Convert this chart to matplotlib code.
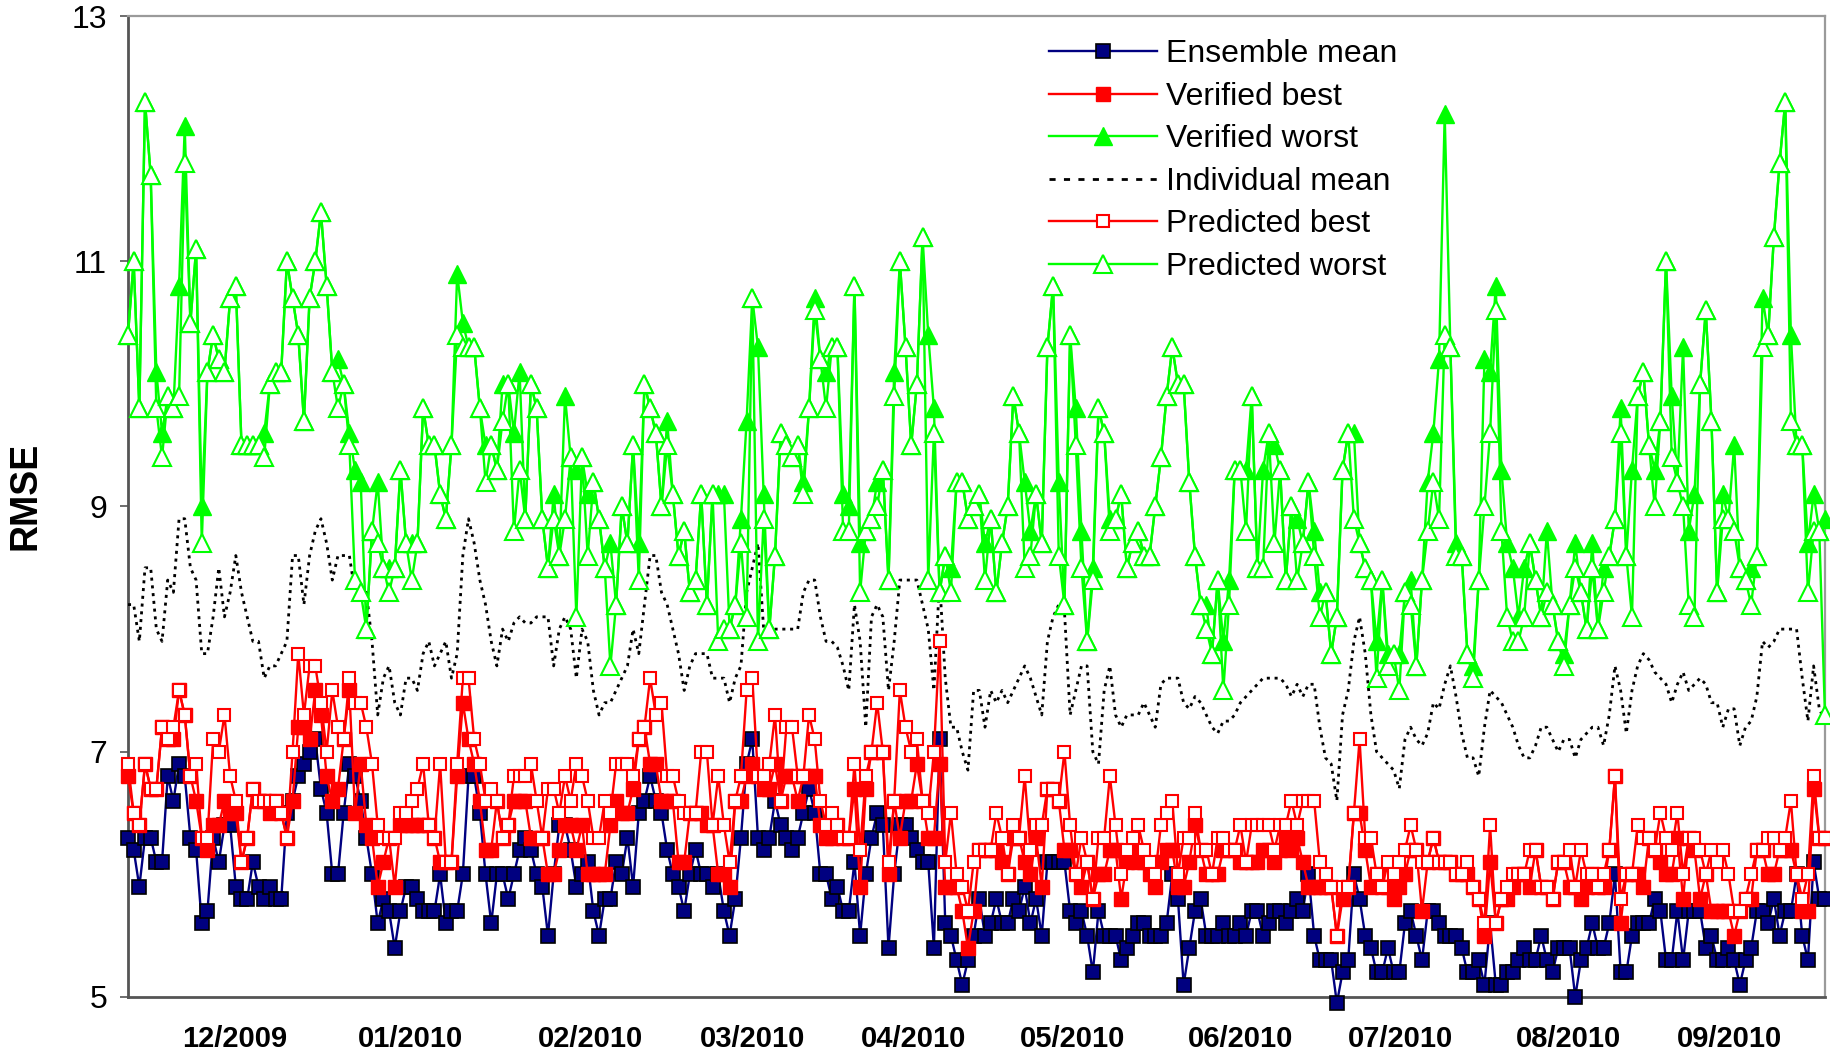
import numpy as np
import matplotlib
matplotlib.use("Agg")
import matplotlib.pyplot as plt
from matplotlib.lines import Line2D

# ---------------- data (daily RMSE) ----------------
ensemble_mean = [
    6.3, 6.2, 5.9, 6.3, 6.3, 6.1, 6.1, 6.8, 6.6, 6.9,
    6.8, 6.3, 6.2, 5.6, 5.7, 6.3, 6.1, 6.4, 6.4, 5.9,
    5.8, 5.8, 6.1, 5.9, 5.8, 5.9, 5.8, 5.8, 6.5, 6.6,
    6.8, 6.9, 7.0, 7.1, 6.7, 6.5, 6.0, 6.0, 6.5, 6.9,
    6.8, 6.6, 6.3, 6.0, 5.6, 5.8, 5.7, 5.4, 5.7, 5.9,
    5.9, 5.8, 5.7, 5.7, 5.7, 6.0, 5.6, 5.7, 5.7, 6.0,
    6.8, 6.8, 6.5, 6.0, 5.6, 6.0, 6.0, 5.8, 6.0, 6.2,
    6.3, 6.2, 6.0, 5.9, 5.5, 6.0, 6.4, 6.4, 6.2, 5.9,
    6.0, 6.1, 5.7, 5.5, 5.8, 5.8, 6.1, 6.0, 6.3, 5.9,
    6.5, 6.6, 6.8, 6.6, 6.5, 6.2, 6.0, 5.9, 5.7, 6.0,
    6.2, 6.0, 6.0, 5.9, 6.0, 5.7, 5.5, 5.8, 6.3, 6.9,
    7.1, 6.3, 6.2, 6.3, 6.6, 6.4, 6.3, 6.2, 6.3, 6.5,
    6.7, 6.5, 6.0, 6.0, 5.8, 5.9, 5.7, 5.7, 6.1, 5.5,
    6.0, 6.3, 6.5, 6.4, 5.4, 6.0, 6.4, 6.4, 6.3, 6.2,
    6.1, 6.1, 5.4, 7.1, 5.6, 5.5, 5.3, 5.1, 5.3, 5.5,
    5.8, 5.5, 5.6, 5.8, 5.6, 5.6, 5.8, 5.7, 5.9, 5.6,
    5.8, 5.5, 6.1, 6.1, 6.1, 6.1, 5.7, 5.6, 5.7, 5.5,
    5.2, 5.7, 5.5, 5.5, 5.5, 5.3, 5.4, 5.5, 5.6, 5.6,
    5.5, 5.5, 5.5, 5.6, 6.0, 5.8, 5.1, 5.4, 5.7, 5.8,
    5.5, 5.5, 5.5, 5.6, 5.5, 5.5, 5.6, 5.5, 5.7, 5.7,
    5.5, 5.6, 5.7, 5.7, 5.6, 5.7, 5.8, 5.7, 6.0, 5.5,
    5.3, 5.3, 5.3, 4.95, 5.2, 5.3, 6.0, 5.8, 5.5, 5.4,
    5.2, 5.2, 5.4, 5.2, 5.2, 5.6, 5.7, 5.5, 5.3, 5.7,
    5.7, 5.6, 5.5, 5.5, 5.5, 5.4, 5.2, 5.2, 5.3, 5.1,
    5.6, 5.1, 5.1, 5.2, 5.2, 5.3, 5.4, 5.3, 5.3, 5.5,
    5.3, 5.2, 5.4, 5.4, 5.4, 5.0, 5.3, 5.4, 5.6, 5.4,
    5.4, 5.6, 6.0, 5.2, 5.2, 5.5, 5.6, 5.6, 5.6, 5.8,
    5.7, 5.3, 5.3, 5.7, 5.3, 5.7, 5.7, 5.7, 5.4, 5.5,
    5.3, 5.3, 5.4, 5.3, 5.1, 5.3, 5.4, 5.7, 5.7, 5.6,
    5.8, 5.5, 5.7, 5.7, 6.0, 5.5, 5.3, 6.1, 5.8, 5.8,
]

verified_best = [
    6.8, 6.5, 6.4, 6.9, 6.7, 6.7, 7.2, 7.1, 7.1, 7.5,
    7.3, 6.8, 6.6, 6.3, 6.2, 6.4, 6.4, 6.6, 6.5, 6.5,
    6.1, 6.3, 6.7, 6.6, 6.6, 6.5, 6.6, 6.5, 6.3, 6.6,
    7.2, 7.2, 7.1, 7.5, 7.3, 6.8, 6.6, 6.7, 7.1, 7.5,
    6.5, 6.9, 6.4, 6.3, 5.9, 6.1, 6.3, 5.9, 6.4, 6.4,
    6.4, 6.4, 6.4, 6.4, 6.3, 6.1, 6.1, 6.1, 6.8, 7.4,
    7.1, 6.9, 6.6, 6.2, 6.2, 6.6, 6.3, 6.4, 6.6, 6.6,
    6.6, 6.3, 6.3, 6.3, 6.0, 6.0, 6.2, 6.4, 6.4, 6.2,
    6.4, 6.0, 6.0, 6.0, 6.0, 6.4, 6.6, 6.5, 6.5, 6.7,
    7.1, 7.2, 6.9, 6.9, 6.6, 6.6, 6.6, 6.1, 6.1, 6.5,
    6.5, 6.5, 6.4, 6.4, 6.0, 6.0, 5.9, 6.6, 6.6, 6.8,
    6.9, 6.8, 6.7, 6.7, 6.9, 6.6, 6.8, 6.8, 6.6, 6.8,
    6.8, 6.8, 6.4, 6.3, 6.3, 6.4, 6.3, 6.3, 6.7, 5.9,
    6.7, 7.0, 7.0, 7.0, 6.0, 6.6, 6.3, 6.6, 6.6, 6.9,
    6.6, 6.3, 6.3, 6.9, 5.9, 5.9, 5.9, 5.7, 5.4, 5.7,
    6.2, 6.2, 6.2, 6.2, 6.1, 6.0, 6.3, 6.3, 6.1, 6.0,
    6.3, 5.9, 6.7, 6.7, 6.6, 6.2, 6.2, 6.0, 5.9, 6.1,
    5.8, 6.0, 6.0, 6.2, 6.2, 5.8, 6.1, 6.2, 6.1, 6.1,
    6.0, 5.9, 6.1, 6.2, 6.2, 5.9, 5.9, 6.1, 6.4, 6.2,
    6.0, 6.0, 6.0, 6.2, 6.2, 6.2, 6.1, 6.1, 6.1, 6.1,
    6.2, 6.2, 6.1, 6.2, 6.3, 6.2, 6.3, 6.1, 5.9, 5.9,
    5.9, 5.9, 5.9, 5.5, 5.8, 5.9, 6.5, 6.5, 6.2, 5.9,
    6.0, 5.9, 5.9, 5.8, 5.9, 6.0, 6.2, 6.2, 5.7, 6.1,
    6.3, 6.1, 6.1, 6.1, 6.0, 6.0, 6.0, 5.9, 5.8, 5.5,
    6.1, 5.6, 5.8, 5.8, 5.9, 6.0, 6.0, 5.9, 6.2, 5.9,
    5.9, 5.8, 6.1, 6.1, 5.9, 5.9, 5.8, 5.9, 6.0, 5.9,
    5.9, 6.2, 6.8, 5.6, 6.0, 6.0, 6.0, 5.9, 6.3, 6.2,
    6.1, 6.0, 6.0, 6.3, 5.8, 6.3, 6.2, 5.8, 6.0, 5.7,
    5.7, 5.7, 5.7, 5.5, 5.7, 5.8, 5.8, 6.2, 6.2, 6.0,
    6.0, 6.2, 6.2, 6.2, 6.0, 5.7, 5.7, 6.7, 6.3, 6.3,
]

verified_worst = [
    10.4, 11.0, 9.8, 12.3, 11.7, 10.1, 9.6, 9.9, 9.8, 10.8,
    12.1, 10.5, 11.1, 9.0, 10.1, 10.4, 10.2, 10.1, 10.7, 10.8,
    9.5, 9.5, 9.5, 9.5, 9.6, 10.0, 10.1, 10.1, 11.0, 10.7,
    10.4, 9.7, 10.7, 11.0, 11.4, 10.8, 10.1, 10.2, 10.0, 9.6,
    9.3, 9.2, 8.0, 8.8, 9.2, 8.5, 8.5, 8.5, 9.3, 8.7,
    8.7, 8.7, 9.8, 9.5, 9.5, 9.1, 8.9, 9.5, 10.9, 10.5,
    10.3, 10.3, 9.8, 9.5, 9.5, 9.3, 10.0, 10.0, 9.6, 10.1,
    8.9, 10.0, 9.8, 8.9, 8.5, 9.1, 8.6, 9.9, 9.4, 9.3,
    9.4, 9.1, 9.2, 8.9, 8.5, 8.7, 8.2, 9.0, 8.7, 9.5,
    8.7, 10.0, 9.8, 9.6, 9.0, 9.7, 9.1, 8.6, 8.8, 8.3,
    8.4, 9.1, 8.2, 9.1, 9.1, 9.1, 8.0, 8.2, 8.9, 9.7,
    10.7, 10.3, 9.1, 8.0, 8.6, 9.6, 9.5, 9.4, 9.5, 9.2,
    9.8, 10.7, 10.2, 10.1, 10.3, 10.3, 9.1, 9.0, 10.8, 8.7,
    8.8, 8.9, 9.2, 9.3, 8.4, 10.1, 11.0, 10.3, 9.5, 10.0,
    11.2, 10.4, 9.8, 8.3, 8.6, 8.5, 9.2, 9.2, 8.9, 9.0,
    9.1, 8.7, 8.9, 8.3, 8.7, 9.0, 9.9, 9.6, 9.2, 8.8,
    9.1, 8.7, 10.3, 10.8, 9.2, 8.2, 10.4, 9.8, 8.8, 7.9,
    8.5, 9.8, 9.6, 8.9, 8.9, 9.1, 8.5, 8.7, 8.8, 8.6,
    8.6, 9.0, 9.4, 9.9, 10.3, 10.0, 10.0, 9.2, 8.6, 8.2,
    8.2, 7.8, 8.4, 7.9, 8.4, 9.3, 9.3, 9.3, 9.9, 8.5,
    9.3, 9.6, 9.5, 9.3, 8.4, 9.0, 8.9, 8.7, 9.2, 8.8,
    8.3, 8.3, 7.8, 8.1, 9.3, 9.6, 9.6, 8.7, 8.5, 8.4,
    7.9, 8.4, 7.8, 7.8, 7.8, 8.3, 8.4, 7.7, 8.4, 9.2,
    9.6, 10.2, 12.2, 10.3, 8.7, 8.6, 7.8, 7.7, 8.4, 10.2,
    10.1, 10.8, 9.3, 8.7, 8.5, 8.1, 8.5, 8.7, 8.4, 8.1,
    8.8, 8.2, 7.9, 7.8, 8.2, 8.7, 8.3, 8.0, 8.7, 8.0,
    8.5, 8.6, 8.9, 9.8, 8.6, 9.3, 9.9, 10.1, 9.5, 9.3,
    9.7, 11.0, 9.9, 9.2, 10.3, 8.8, 9.1, 10.0, 10.6, 9.7,
    8.3, 9.1, 8.9, 9.5, 8.5, 8.4, 8.5, 8.6, 10.7, 10.4,
    11.2, 11.8, 12.3, 10.4, 9.5, 9.5, 8.7, 9.1, 8.8, 8.9,
]

individual_mean = [
    8.2, 8.2, 7.9, 8.5, 8.5, 8.0, 7.9, 8.4, 8.3, 8.9,
    8.9, 8.5, 8.4, 7.8, 7.8, 8.1, 8.5, 8.1, 8.3, 8.6,
    8.3, 8.1, 7.9, 7.9, 7.6, 7.7, 7.7, 7.8, 7.9, 8.6,
    8.6, 8.2, 8.6, 8.8, 8.9, 8.7, 8.4, 8.6, 8.6, 8.6,
    8.3, 8.3, 8.3, 7.9, 7.3, 7.6, 7.7, 7.4, 7.3, 7.6,
    7.6, 7.5, 7.8, 7.9, 7.7, 7.8, 7.9, 7.6, 7.8, 8.6,
    8.9, 8.7, 8.4, 8.2, 7.9, 7.7, 8.0, 7.9, 8.05, 8.1,
    8.05, 8.05, 8.1, 8.1, 8.1, 7.7, 8.0, 8.1, 8.0, 7.6,
    8.0, 7.9, 7.5, 7.3, 7.4, 7.4, 7.5, 7.6, 7.7, 8.0,
    7.8, 8.2, 8.6, 8.6, 8.3, 8.2, 8.0, 7.8, 7.5, 7.7,
    7.8, 7.8, 7.8, 7.6, 7.6, 7.6, 7.4, 7.6, 7.7, 8.3,
    8.5, 8.7, 8.0, 8.0, 8.0, 8.0, 8.0, 8.0, 8.0, 8.3,
    8.4, 8.4, 8.1, 7.9, 7.9, 7.85, 7.7, 7.5, 8.2, 7.9,
    7.2, 8.1, 8.2, 8.1, 7.5, 7.9, 8.4, 8.4, 8.4, 8.4,
    8.2, 8.0, 7.5, 8.4, 7.6, 7.2, 7.2, 7.0, 6.85, 7.5,
    7.5, 7.2, 7.5, 7.4, 7.5, 7.4, 7.5, 7.6, 7.7, 7.6,
    7.45, 7.3, 7.9, 8.1, 8.2, 8.15, 7.3, 7.5, 7.7, 7.7,
    7.0, 6.9, 7.5, 7.7, 7.3, 7.2, 7.3, 7.3, 7.3, 7.4,
    7.3, 7.2, 7.55, 7.6, 7.6, 7.6, 7.4, 7.35, 7.45, 7.4,
    7.3, 7.2, 7.15, 7.25, 7.25, 7.3, 7.4, 7.45, 7.5, 7.55,
    7.6, 7.6, 7.6, 7.6, 7.55, 7.45, 7.55, 7.45, 7.55, 7.55,
    7.2, 6.95, 6.9, 6.6, 7.3, 7.5, 7.9, 8.1, 7.8, 7.3,
    7.0, 6.95, 6.9, 6.85, 6.7, 7.1, 7.2, 7.1, 7.05, 7.15,
    7.4, 7.35, 7.55, 7.7, 7.45, 7.15, 6.95, 6.95, 6.8, 7.2,
    7.5, 7.45, 7.4, 7.3, 7.2, 7.05, 6.95, 6.95, 7.05, 7.2,
    7.2, 7.1, 7.0, 7.1, 7.1, 6.95, 7.1, 7.15, 7.2, 7.2,
    7.05, 7.3, 7.7, 7.5, 7.15, 7.5, 7.7, 7.8, 7.75, 7.65,
    7.6, 7.55, 7.4, 7.55, 7.65, 7.5, 7.55, 7.6, 7.55, 7.4,
    7.4, 7.2, 7.35, 7.35, 7.05, 7.2, 7.25, 7.45, 7.9, 7.85,
    7.9, 8.0, 8.0, 8.0, 8.0, 7.6, 7.25, 7.7, 7.35, 7.25,
]

predicted_best = [
    6.9, 6.5, 6.4, 6.9, 6.7, 6.7, 7.2, 7.1, 7.2, 7.5,
    7.3, 6.8, 6.9, 6.3, 6.3, 7.1, 7.0, 7.3, 6.8, 6.6,
    6.1, 6.3, 6.7, 6.6, 6.6, 6.6, 6.6, 6.5, 6.3, 7.0,
    7.8, 7.3, 7.7, 7.7, 7.4, 7.0, 7.5, 7.2, 7.1, 7.6,
    7.4, 7.4, 7.2, 6.9, 6.4, 6.3, 6.3, 6.3, 6.5, 6.5,
    6.6, 6.7, 6.9, 6.4, 6.3, 6.9, 6.1, 6.1, 6.9, 7.6,
    7.6, 7.1, 6.9, 6.6, 6.7, 6.6, 6.3, 6.4, 6.8, 6.8,
    6.8, 6.9, 6.6, 6.3, 6.7, 6.7, 6.5, 6.8, 6.6, 6.9,
    6.8, 6.6, 6.3, 6.3, 6.6, 6.5, 6.9, 6.9, 6.9, 6.8,
    7.1, 7.2, 7.6, 7.3, 7.4, 6.8, 6.8, 6.6, 6.5, 6.5,
    6.5, 7.0, 7.0, 6.4, 6.8, 6.4, 6.1, 6.6, 6.8, 7.5,
    7.6, 6.8, 6.8, 6.9, 7.3, 6.6, 7.2, 7.2, 6.8, 6.8,
    7.3, 7.1, 6.6, 6.4, 6.5, 6.4, 6.3, 6.3, 6.9, 6.2,
    6.8, 7.0, 7.4, 7.0, 6.1, 6.6, 7.5, 7.2, 7.0, 7.1,
    6.6, 6.5, 7.0, 7.9, 6.1, 6.5, 6.0, 5.9, 5.7, 6.1,
    6.2, 6.2, 6.2, 6.5, 6.3, 6.0, 6.4, 6.3, 6.8, 6.2,
    6.4, 6.4, 6.7, 6.7, 6.6, 7.0, 6.4, 6.0, 6.3, 6.1,
    5.8, 6.3, 6.3, 6.8, 6.4, 6.0, 6.2, 6.3, 6.4, 6.2,
    6.1, 6.0, 6.4, 6.5, 6.6, 6.0, 6.3, 6.3, 6.5, 6.2,
    6.2, 6.0, 6.3, 6.3, 6.2, 6.2, 6.4, 6.1, 6.4, 6.4,
    6.4, 6.4, 6.2, 6.4, 6.4, 6.6, 6.4, 6.6, 6.6, 6.6,
    6.1, 6.0, 5.9, 5.5, 5.9, 5.9, 6.5, 7.1, 6.3, 6.3,
    6.0, 5.9, 6.1, 6.0, 6.1, 6.2, 6.4, 6.2, 6.1, 6.1,
    6.3, 6.1, 6.1, 6.1, 6.0, 6.0, 6.1, 5.9, 5.8, 5.6,
    6.4, 5.6, 5.8, 5.9, 6.0, 6.0, 6.0, 6.2, 6.2, 5.9,
    5.9, 5.8, 6.1, 6.1, 6.2, 5.9, 6.2, 6.0, 6.0, 5.9,
    6.0, 6.2, 6.8, 5.8, 6.0, 6.0, 6.4, 6.3, 6.3, 6.2,
    6.5, 6.3, 6.2, 6.5, 6.0, 6.3, 6.3, 6.2, 6.0, 6.2,
    6.1, 6.2, 6.0, 5.7, 5.7, 5.8, 6.0, 6.2, 6.2, 6.3,
    6.3, 6.2, 6.3, 6.6, 6.0, 5.8, 6.0, 6.8, 6.3, 6.3,
]

predicted_worst = [
    10.4, 11.0, 9.8, 12.3, 11.7, 9.8, 9.4, 9.9, 9.8, 9.9,
    11.8, 10.5, 11.1, 8.7, 10.1, 10.4, 10.2, 10.1, 10.7, 10.8,
    9.5, 9.5, 9.5, 9.5, 9.4, 10.0, 10.1, 10.1, 11.0, 10.7,
    10.4, 9.7, 10.7, 11.0, 11.4, 10.8, 10.1, 9.8, 10.0, 9.5,
    8.4, 8.3, 8.0, 8.8, 8.7, 8.5, 8.3, 8.5, 9.3, 8.7,
    8.4, 8.7, 9.8, 9.5, 9.5, 9.1, 8.9, 9.5, 10.4, 10.3,
    10.3, 10.3, 9.8, 9.2, 9.5, 9.3, 9.7, 10.0, 8.8, 9.3,
    8.9, 10.0, 9.8, 8.9, 8.5, 8.9, 8.6, 8.9, 9.4, 8.1,
    9.4, 8.6, 9.2, 8.9, 8.5, 7.7, 8.2, 9.0, 8.7, 9.5,
    8.4, 10.0, 9.8, 9.6, 9.0, 9.5, 9.1, 8.6, 8.8, 8.3,
    8.4, 9.1, 8.2, 9.1, 7.9, 8.0, 8.0, 8.2, 8.7, 8.1,
    10.7, 7.9, 8.9, 8.0, 8.6, 9.6, 9.5, 9.4, 9.5, 9.1,
    9.8, 10.6, 10.2, 9.8, 10.3, 10.3, 8.8, 8.8, 10.8, 8.3,
    8.8, 8.9, 9.0, 9.3, 8.4, 9.9, 11.0, 10.3, 9.5, 10.0,
    11.2, 8.4, 9.6, 8.3, 8.6, 8.3, 9.2, 9.2, 8.9, 9.0,
    9.1, 8.4, 8.9, 8.3, 8.7, 9.0, 9.9, 9.6, 8.5, 8.6,
    9.1, 8.7, 10.3, 10.8, 8.6, 8.2, 10.4, 9.5, 8.5, 7.9,
    8.4, 9.8, 9.6, 8.8, 8.9, 9.1, 8.5, 8.7, 8.8, 8.6,
    8.6, 9.0, 9.4, 9.9, 10.3, 10.0, 10.0, 9.2, 8.6, 8.2,
    8.0, 7.8, 8.4, 7.5, 8.2, 9.3, 9.3, 8.8, 9.9, 8.5,
    8.5, 9.6, 8.7, 9.3, 8.4, 9.0, 8.4, 8.7, 9.2, 8.6,
    8.1, 8.3, 7.8, 8.1, 9.3, 9.6, 8.9, 8.7, 8.5, 8.4,
    7.6, 8.4, 7.7, 7.8, 7.5, 8.3, 8.2, 7.7, 8.4, 8.8,
    9.2, 8.9, 10.4, 10.3, 8.6, 8.6, 7.8, 7.6, 8.4, 9.0,
    9.6, 10.6, 8.8, 8.1, 7.9, 7.9, 8.1, 8.7, 8.4, 8.1,
    8.3, 8.2, 7.9, 7.7, 8.2, 8.5, 8.3, 8.0, 8.5, 8.0,
    8.3, 8.6, 8.9, 9.6, 8.6, 8.1, 9.9, 10.1, 9.5, 9.0,
    9.7, 11.0, 9.4, 9.2, 9.0, 8.2, 8.1, 10.0, 10.6, 9.7,
    8.3, 8.9, 8.9, 8.8, 8.5, 8.4, 8.2, 8.6, 10.3, 10.4,
    11.2, 11.8, 12.3, 9.7, 9.5, 9.5, 8.3, 8.8, 8.8, 7.3,
]

month_labels = ["12/2009", "01/2010", "02/2010", "03/2010", "04/2010",
                "05/2010", "06/2010", "07/2010", "08/2010", "09/2010"]
month_label_pos = [18.8, 49.7, 81.5, 110.0, 138.5, 166.4, 196.1, 224.2, 253.9, 282.1]
y_ticks = [5, 7, 9, 11, 13]

# ---------------- styling ----------------
plt.rcParams['font.family'] = ['Liberation Sans', 'DejaVu Sans']

NAVY = '#000080'
RED = '#FF0000'
GREEN = '#00FF00'

fig = plt.figure(figsize=(18.31, 10.53), dpi=100)
ax = fig.add_axes([0.0699, 0.0532, 0.9268, 0.9316])

def xs(s):
    return np.arange(len(s))

lw = 1.7
sq = 9.5
tri = 12.5
ax.plot(xs(ensemble_mean), ensemble_mean, color=NAVY, lw=lw, marker='s', ms=sq,
        mfc=NAVY, mec='black', mew=1.2, clip_on=False, zorder=3, label='Ensemble mean')
ax.plot(xs(verified_best), verified_best, color=RED, lw=lw, marker='s', ms=sq,
        mfc=RED, mec=RED, mew=1.0, clip_on=False, zorder=4, label='Verified best')
ax.plot(xs(verified_worst), verified_worst, color=GREEN, lw=lw, marker='^', ms=tri,
        mfc=GREEN, mec=GREEN, mew=1.0, clip_on=False, zorder=5, label='Verified worst')
ax.plot(xs(individual_mean), individual_mean, color='black', lw=2.0,
        ls=(0, (1.1, 1.7)), clip_on=False, zorder=6, label='Individual mean')
ax.plot(xs(predicted_best), predicted_best, color=RED, lw=lw, marker='s', ms=sq - 0.5,
        mfc='white', mec=RED, mew=1.5, clip_on=False, zorder=7, label='Predicted best')
ax.plot(xs(predicted_worst), predicted_worst, color=GREEN, lw=lw, marker='^', ms=tri,
        mfc='white', mec=GREEN, mew=1.5, clip_on=False, zorder=8, label='Predicted worst')

n = len(predicted_worst)
ax.set_xlim(0, n - 1)
ax.set_ylim(5, 13)
ax.set_yticks(y_ticks)
ax.set_yticklabels([str(v) for v in y_ticks])
ax.tick_params(axis='y', direction='out', length=6, width=1.2, color='#555555',
               labelsize=23, pad=9, labelcolor='black')
ax.set_xticks(month_label_pos)
ax.set_xticklabels(month_labels, fontsize=21, fontweight='bold',
                   family=['Liberation Sans Narrow', 'Liberation Sans', 'DejaVu Sans'])
ax.tick_params(axis='x', length=0, pad=20, labelcolor='black')

for side in ['left', 'bottom']:
    ax.spines[side].set_color('#555555')
    ax.spines[side].set_linewidth(2.0)
for side in ['top', 'right']:
    ax.spines[side].set_color('#9a9a9a')
    ax.spines[side].set_linewidth(1.6)

fig.text(26 / 1831, 0.529, 'RMSE', rotation=90, ha='center', va='center',
         fontsize=27, fontweight='bold')

handles = [
    Line2D([], [], color=NAVY, lw=lw, marker='s', ms=sq, mfc=NAVY, mec='black', mew=1.2),
    Line2D([], [], color=RED, lw=lw, marker='s', ms=sq, mfc=RED, mec=RED),
    Line2D([], [], color=GREEN, lw=lw, marker='^', ms=tri, mfc=GREEN, mec=GREEN),
    Line2D([], [], color='black', lw=2.0, ls=(0, (2.2, 3.0))),
    Line2D([], [], color=RED, lw=lw, marker='s', ms=sq - 0.5, mfc='white', mec=RED, mew=1.5),
    Line2D([], [], color=GREEN, lw=lw, marker='^', ms=tri, mfc='white', mec=GREEN, mew=1.5),
]
labels = ['Ensemble mean', 'Verified best', 'Verified worst',
          'Individual mean', 'Predicted best', 'Predicted worst']
fig.legend(handles, labels, loc='upper left', bbox_to_anchor=(0.573, 0.9625),
           bbox_transform=fig.transFigure, frameon=False, fontsize=23,
           handlelength=3.37, handletextpad=0.3, labelspacing=0.39,
           borderpad=0, borderaxespad=0, numpoints=1)

fig.savefig('out.png', dpi=100)
